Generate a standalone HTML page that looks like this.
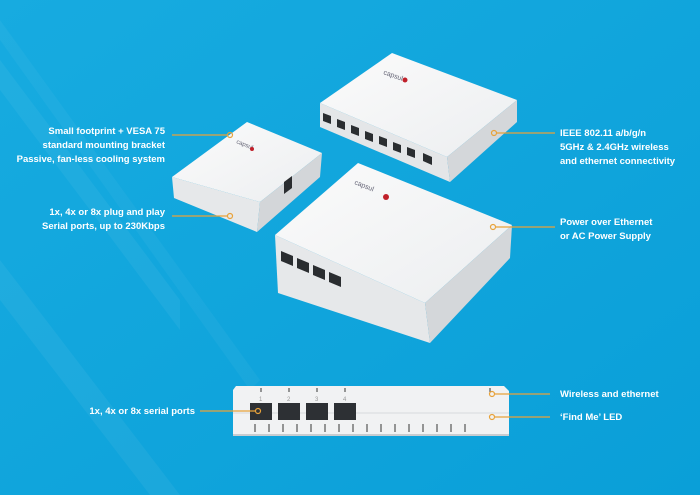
<!DOCTYPE html>
<html><head><meta charset="utf-8"><style>
html,body{margin:0;padding:0}
body{width:700px;height:495px;overflow:hidden;background:#0fa4dc;font-family:"Liberation Sans",sans-serif}
svg{display:block}
text{font-family:"Liberation Sans",sans-serif;font-size:9.5px;fill:#fff;font-weight:bold}
</style></head><body>
<svg width="700" height="495" viewBox="0 0 700 495">
<defs>
<linearGradient id="bg" x1="0" y1="0" x2="1" y2="1"><stop offset="0" stop-color="#17abe0"/><stop offset="1" stop-color="#0a9fd8"/></linearGradient>
<linearGradient id="top" x1="0" y1="0" x2="1" y2="1"><stop offset="0" stop-color="#fbfbfb"/><stop offset="1" stop-color="#eceef0"/></linearGradient>
</defs>
<rect width="700" height="495" fill="url(#bg)"/>
<path d="M0 60 L180 300 L180 330 L0 90Z" fill="#fff" opacity="0.05"/>
<path d="M0 260 L180 495 L150 495 L0 300Z" fill="#fff" opacity="0.05"/>
<path d="M0 20 L260 380 L250 390 L0 40Z" fill="#fff" opacity="0.04"/>

<!-- top right device -->
<polygon points="392,53 517,100 447,157 320,103" fill="url(#top)"/>
<polygon points="320,103 447,157 450,182 320,127" fill="#e4e6e8"/>
<polygon points="447,157 517,100 517,122 450,182" fill="#d4d7da"/>
<g fill="#2a2d30">
<polygon points="323,113 331,116 331,124 323,121"/><polygon points="337,119 345,122 345,130 337,127"/><polygon points="351,125 359,128 359,136 351,133"/><polygon points="365,131 373,134 373,142 365,139"/><polygon points="379,136 387,139 387,147 379,144"/><polygon points="393,142 401,145 401,153 393,150"/><polygon points="407,147 415,150 415,158 407,155"/><polygon points="423,153 432,157 432,165 423,161"/>
</g>
<text x="383" y="74" fill="#556" style="fill:#667;font-size:7px;font-weight:normal" transform="rotate(20 383 74)">capsul</text>
<circle cx="405" cy="80" r="2.5" fill="#c0202a"/>

<!-- small device -->
<polygon points="247,122 322,153 260,202 172,177" fill="url(#top)"/>
<polygon points="172,177 260,202 257,232 174,198" fill="#e6e8ea"/>
<polygon points="260,202 322,153 320,177 257,232" fill="#d3d6d9"/>
<polygon points="284,182 292,176 292,188 284,194" fill="#2a2d30"/>
<text x="236" y="143" style="fill:#667;font-size:6px;font-weight:normal" transform="rotate(22 236 143)">capsul</text>
<circle cx="252" cy="149" r="2" fill="#c0202a"/>

<!-- middle device -->
<polygon points="358,163 512,225 425,303 275,235" fill="url(#top)"/>
<polygon points="275,235 425,303 430,343 278,293" fill="#e6e8ea"/>
<polygon points="425,303 512,225 510,258 430,343" fill="#d4d7da"/>
<g fill="#2a2d30">
<polygon points="281,251 293,256 293,266 281,261"/><polygon points="297,258 309,263 309,273 297,268"/><polygon points="313,265 325,270 325,280 313,275"/><polygon points="329,272 341,277 341,287 329,282"/>
</g>
<text x="354" y="184" style="fill:#667;font-size:7px;font-weight:normal" transform="rotate(22 354 184)">capsul</text>
<circle cx="386" cy="197" r="3" fill="#c0202a"/>

<!-- bottom device -->
<path d="M236 386 L504 386 L509 391 L509 435 L233 435 L233 390Z" fill="#f1f2f3"/>
<line x1="233" y1="413" x2="509" y2="413" stroke="#d8dadc"/>
<line x1="233" y1="435" x2="509" y2="435" stroke="#c8ccd0" stroke-width="2"/>
<g fill="#2d3034">
<rect x="250" y="403" width="22" height="17"/><rect x="278" y="403" width="22" height="17"/><rect x="306" y="403" width="22" height="17"/><rect x="334" y="403" width="22" height="17"/>
</g>
<g fill="#888" font-size="6"><text x="259" y="401" style="fill:#999;font-size:6px;font-weight:normal">1</text><text x="287" y="401" style="fill:#999;font-size:6px;font-weight:normal">2</text><text x="315" y="401" style="fill:#999;font-size:6px;font-weight:normal">3</text><text x="343" y="401" style="fill:#999;font-size:6px;font-weight:normal">4</text></g>
<g stroke="#555" stroke-width="1.2">
<line x1="255" y1="424" x2="255" y2="432"/><line x1="269" y1="424" x2="269" y2="432"/><line x1="283" y1="424" x2="283" y2="432"/><line x1="297" y1="424" x2="297" y2="432"/><line x1="311" y1="424" x2="311" y2="432"/><line x1="325" y1="424" x2="325" y2="432"/><line x1="339" y1="424" x2="339" y2="432"/><line x1="353" y1="424" x2="353" y2="432"/><line x1="367" y1="424" x2="367" y2="432"/><line x1="381" y1="424" x2="381" y2="432"/><line x1="395" y1="424" x2="395" y2="432"/><line x1="409" y1="424" x2="409" y2="432"/><line x1="423" y1="424" x2="423" y2="432"/><line x1="437" y1="424" x2="437" y2="432"/><line x1="451" y1="424" x2="451" y2="432"/><line x1="465" y1="424" x2="465" y2="432"/>
<line x1="261" y1="388" x2="261" y2="392"/><line x1="289" y1="388" x2="289" y2="392"/><line x1="317" y1="388" x2="317" y2="392"/><line x1="345" y1="388" x2="345" y2="392"/><line x1="490" y1="388" x2="490" y2="392"/>
</g>

<!-- connectors -->
<g stroke="#e8a23a" stroke-width="1.2" fill="none">
<line x1="172" y1="135" x2="227" y2="135"/><circle cx="230" cy="135" r="2.5"/>
<line x1="172" y1="216" x2="227" y2="216"/><circle cx="230" cy="216" r="2.5"/>
<line x1="497" y1="133" x2="555" y2="133"/><circle cx="494" cy="133" r="2.5"/>
<line x1="496" y1="227" x2="555" y2="227"/><circle cx="493" cy="227" r="2.5"/>
<line x1="495" y1="394" x2="550" y2="394"/><circle cx="492" cy="394" r="2.5"/>
<line x1="495" y1="417" x2="550" y2="417"/><circle cx="492" cy="417" r="2.5"/>
<line x1="200" y1="411" x2="255" y2="411"/><circle cx="258" cy="411" r="2.5"/>
</g>

<!-- labels -->
<g text-anchor="end">
<text x="165" y="134">Small footprint + VESA 75</text>
<text x="165" y="148">standard mounting bracket</text>
<text x="165" y="162">Passive, fan-less cooling system</text>
<text x="165" y="215">1x, 4x or 8x plug and play</text>
<text x="165" y="229">Serial ports, up to 230Kbps</text>
<text x="195" y="414">1x, 4x or 8x serial ports</text>
</g>
<text x="560" y="136">IEEE 802.11 a/b/g/n</text>
<text x="560" y="150">5GHz &amp; 2.4GHz wireless</text>
<text x="560" y="164">and ethernet connectivity</text>
<text x="560" y="225">Power over Ethernet</text>
<text x="560" y="239">or AC Power Supply</text>
<text x="560" y="397">Wireless and ethernet</text>
<text x="560" y="420">‘Find Me’ LED</text>
</svg>
</body></html>
